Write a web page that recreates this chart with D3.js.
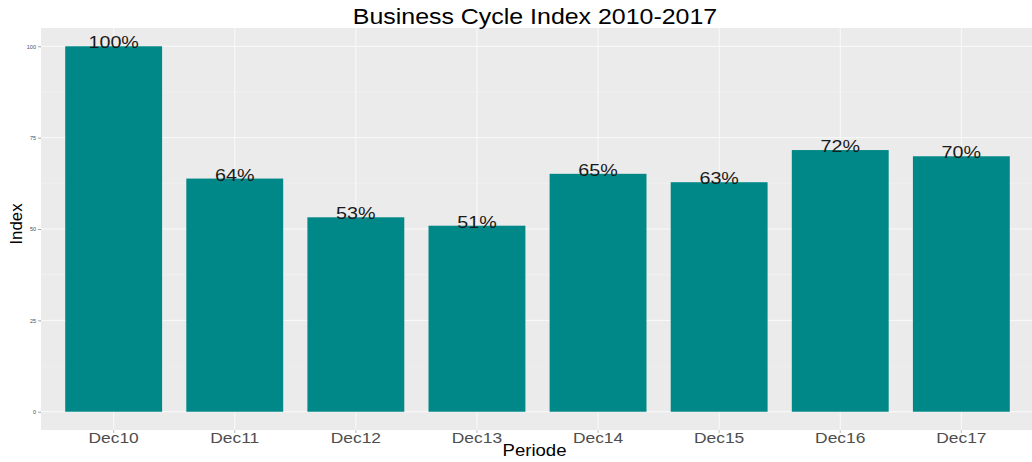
<!DOCTYPE html>
<html><head><meta charset="utf-8">
<script src="https://cdn.jsdelivr.net/npm/d3@7/dist/d3.min.js"></script>
<style>body{margin:0;background:#fff}svg{display:block}text{font-family:"Liberation Sans",Arial,sans-serif}</style>
</head><body>
<svg id="c" width="1032" height="462"></svg>
<script>
const categories = ["Dec10","Dec11","Dec12","Dec13","Dec14","Dec15","Dec16","Dec17"];
const values = [100, 63.8, 53.2, 50.9, 65.1, 62.8, 71.6, 69.9];
const yTicks = [0, 25, 50, 75, 100];
const yMinor = [12.5, 37.5, 62.5, 87.5];
const title = "Business Cycle Index 2010-2017";
const xTitle = "Periode";
const yTitle = "Index";

const SX = 1.16; // horizontal stretch of the reference image text
const svg = d3.select("#c");
const P = {l: 41, r: 1034, t: 28, b: 430};

const n = categories.length;
const step = (P.r - P.l) / (n - 1 + 1.2);
const x = d3.scaleBand().domain(categories)
  .range([P.l + 0.6*step - step/2, P.r - 0.6*step + step/2]).paddingInner(0.2).paddingOuter(0.1);
const xc = d => x(d) + x.bandwidth()/2;
const y = d3.scaleLinear().domain([-5, 105]).range([P.b, P.t]);

svg.append("rect").attr("x", P.l).attr("y", P.t).attr("width", P.r-P.l).attr("height", P.b-P.t).attr("fill", "#ebebeb");

const g = svg.append("g");
g.selectAll(".ymin").data(yMinor).join("line")
  .attr("x1", P.l).attr("x2", P.r).attr("y1", d=>y(d)).attr("y2", d=>y(d))
  .attr("stroke", "#f4f4f4").attr("stroke-width", 0.6);
g.selectAll(".ymaj").data(yTicks).join("line")
  .attr("x1", P.l).attr("x2", P.r).attr("y1", d=>y(d)).attr("y2", d=>y(d))
  .attr("stroke", "#fafafa").attr("stroke-width", 1);
g.selectAll(".xmaj").data(categories).join("line")
  .attr("x1", d=>xc(d)).attr("x2", d=>xc(d)).attr("y1", P.t).attr("y2", P.b)
  .attr("stroke", "#fafafa").attr("stroke-width", 1);

svg.selectAll(".bar").data(categories).join("rect")
  .attr("x", d=>x(d)).attr("width", x.bandwidth())
  .attr("y", (d,i)=>y(values[i])).attr("height", (d,i)=>y(0)-y(values[i]))
  .attr("fill", "#008787");

svg.selectAll(".lab").data(categories).join("text")
  .attr("transform", (d,i)=>`translate(${xc(d)},${y(values[i]) + 2}) scale(${SX},1)`)
  .attr("text-anchor", "middle").attr("font-size", 17).attr("fill", "#1a1a1a")
  .text((d,i)=>Math.round(values[i]) + "%");

// y axis
const ya = d3.axisLeft(y).tickValues(yTicks).tickSize(3).tickPadding(2);
const yg = svg.append("g").attr("transform", `translate(${P.l},0)`).call(ya);
yg.select(".domain").remove();
yg.selectAll(".tick line").attr("stroke", "#666").attr("stroke-width", 0.6);
yg.selectAll(".tick text").attr("font-size", 5.5).attr("fill", "#4d4d4d").attr("font-family", "Liberation Sans, Arial, sans-serif");

// x axis
const xa = d3.axisBottom(x).tickSize(3).tickPadding(2);
const xg = svg.append("g").attr("transform", `translate(0,${P.b})`).call(xa);
xg.select(".domain").remove();
xg.selectAll(".tick line").attr("stroke", "#aaa").attr("stroke-width", 0.8);
xg.selectAll(".tick text").attr("font-size", 15).attr("fill", "#4d4d4d").attr("font-family", "Liberation Sans, Arial, sans-serif")
  .attr("dy", null).attr("y", 0).attr("transform", `translate(0,13) scale(${SX},1)`);

svg.append("text").attr("transform", `translate(${(P.l + P.r)/2 - 3},456) scale(${SX},1)`).attr("text-anchor", "middle")
  .attr("font-size", 16).attr("fill", "#000").text(xTitle);
svg.append("text").attr("transform", "translate(22,224) rotate(-90) scale(1.12,1.1)").attr("text-anchor", "middle")
  .attr("font-size", 15).attr("fill", "#000").text(yTitle);
svg.append("text").attr("transform", `translate(535,23.5) scale(${SX},1)`).attr("text-anchor", "middle")
  .attr("font-size", 21.5).attr("fill", "#000").text(title);
</script>
</body></html>
